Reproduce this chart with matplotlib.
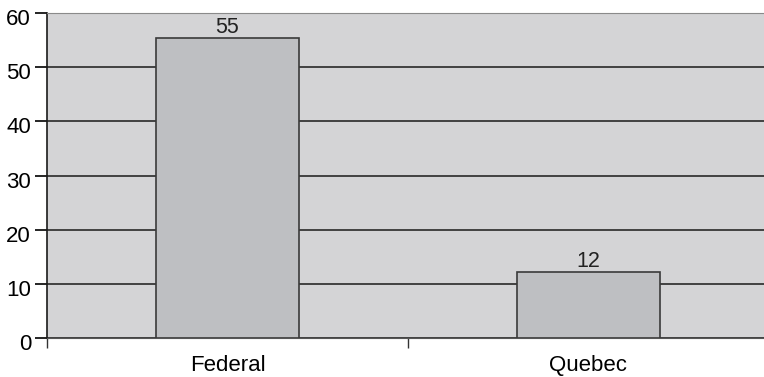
import numpy as np
import matplotlib.pyplot as plt
from matplotlib.transforms import ScaledTranslation

# values
categories = ['Federal', 'Quebec']
values = [55.4, 12.2]
yticks = [0, 10, 20, 30, 40, 50, 60]

plt.rcParams['font.family'] = ['Liberation Sans', 'DejaVu Sans']

W, H = 764, 377
fig = plt.figure(figsize=(W / 100, H / 100), dpi=100)
ax = fig.add_axes([47 / W, 39 / H, 722 / W, 325 / H])
ax.set_facecolor('#d4d4d6')

x = np.arange(len(categories))
bars = ax.bar(x, values, width=0.395, color='#bebfc2', edgecolor='#3a3a3a',
              linewidth=1.2, zorder=3)

for b, v in zip(bars, values):
    ax.text(b.get_x() + b.get_width() / 2, b.get_height(), f'{v:.0f}',
            ha='center', va='bottom', fontsize=15.5, color='#222222', zorder=4)

ax.set_xlim(-0.5, len(categories) - 0.5)
ax.set_ylim(0, 60)
ax.set_yticks(yticks)
ax.yaxis.grid(True, color='#1a1a1a', linewidth=1.1, zorder=1)
ax.set_axisbelow(True)

ax.set_xticks(x)
ax.set_xticklabels(categories)
ax.set_xticks(np.arange(-0.5, len(categories), 1.0), minor=True)
ax.tick_params(axis='x', which='major', length=0, labelsize=16, pad=12)
ax.tick_params(axis='x', which='minor', length=7, width=1, color='#333333')
ax.tick_params(axis='y', length=8.5, width=1.2, labelsize=16, pad=3)

# y labels sit a little below their ticks in the original
shift = ScaledTranslation(0, -4 / 100, fig.dpi_scale_trans)
for lbl in ax.get_yticklabels():
    lbl.set_transform(lbl.get_transform() + shift)

ax.spines['right'].set_visible(False)
ax.spines['top'].set_color('#8a8a8a')
ax.spines['left'].set_color('#1a1a1a')
ax.spines['left'].set_linewidth(1.2)
ax.spines['bottom'].set_color('#555555')

fig.savefig('out.png', dpi=100)
